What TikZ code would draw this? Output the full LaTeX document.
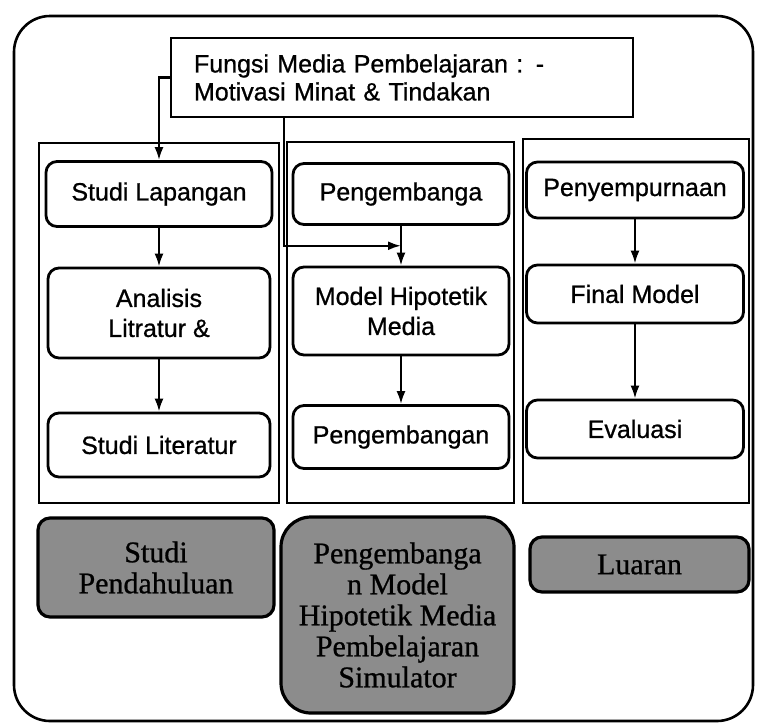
\documentclass[tikz,border=0pt]{standalone}
\usepackage{fontspec}
\setmainfont[FakeBold=0.8]{Liberation Sans}
\newfontfamily\bawahfont[FakeBold=0.8]{Liberation Serif}
\usetikzlibrary{positioning,calc,arrows.meta}

\tikzset{
  box/.style={draw,line width=2.8pt,rounded corners=11pt,fill=white,minimum width=216pt,align=center,font=\fontsize{25}{30}\selectfont},
  frame/.style={draw,line width=2.4pt},
  dark/.style={draw,line width=3.2pt,fill=black!45,align=center,font=\bawahfont\fontsize{30}{31}\selectfont}
}

\begin{document}
\begin{tikzpicture}[x=1pt,y=-1pt,>={Latex[length=13pt,width=9pt]},line width=2.2pt,on grid]
\useasboundingbox (0,0) rectangle (760,726);
\draw[line width=2.6pt,rounded corners=36pt] (14,16) rectangle (753,721);
% kolom
\draw[frame] (39,143) rectangle (279,503);
\draw[frame] (287,142) rectangle (514,503);
\draw[frame] (523,139) rectangle (749,503);

\node[draw,line width=2.4pt,fill=white,inner xsep=23pt,text width=416pt,minimum height=79pt,align=left,font=\fontsize{25}{28}\selectfont] (fungsi) at (402,77.5) {Fungsi Media Pembelajaran : -\\Motivasi Minat \& Tindakan};

\node[box,minimum height=65pt,minimum width=226pt] (s_1) at (159,194) {Studi Lapangan};
\node[box,minimum height=90pt,minimum width=222pt] (s_2) [below=119pt of s_1] {Analisis\\Litratur \&};
\node[box,minimum height=64pt,minimum width=222pt] (s_3) [below=132pt of s_2] {Studi Literatur};

\node[box,minimum height=61pt] (p_1) [right=242pt of s_1] {Pengembanga};
\node[box,minimum height=88pt] (p_2) [below=117pt of p_1] {Model Hipotetik\\Media};
\node[box,minimum height=63pt] (p_3) [below=126pt of p_2] {Pengembangan};

\node[box,minimum height=56pt,minimum width=217pt] (e_1) at (635,190) {Penyempurnaan};
\node[box,minimum height=58pt,minimum width=217pt] (e_2) [below=104pt of e_1] {Final Model};
\node[box,minimum height=58pt,minimum width=217pt] (e_3) [below=135pt of e_2] {Evaluasi};

% luaran bawah
\node[dark,rounded corners=12pt,minimum width=236pt,minimum height=99pt] (b_1) at (156,567.5) {Studi\\Pendahuluan};
\node[dark,rounded corners=30pt,minimum width=233pt,minimum height=196pt] (b_2) at (397.5,615) {Pengembanga\\n Model\\Hipotetik Media\\Pembelajaran\\Simulator};
\node[dark,rounded corners=12pt,minimum width=219pt,minimum height=55pt] (b_3) at (639.5,564.5) {Luaran};

\coordinate (drop) at (284,0);
\coordinate (join) at ($(p_1.south)!0.5!(p_2.north)$);

\draw[->] (fungsi.west) -| (s_1.north);
\draw[->] (fungsi.south -| drop) |- (join);
\path[->]
(s_1) edge (s_2)
(s_2) edge (s_3)
(p_1) edge (p_2)
(p_2) edge (p_3)
(e_1) edge (e_2)
(e_2) edge (e_3)
;
\end{tikzpicture}
\end{document}
